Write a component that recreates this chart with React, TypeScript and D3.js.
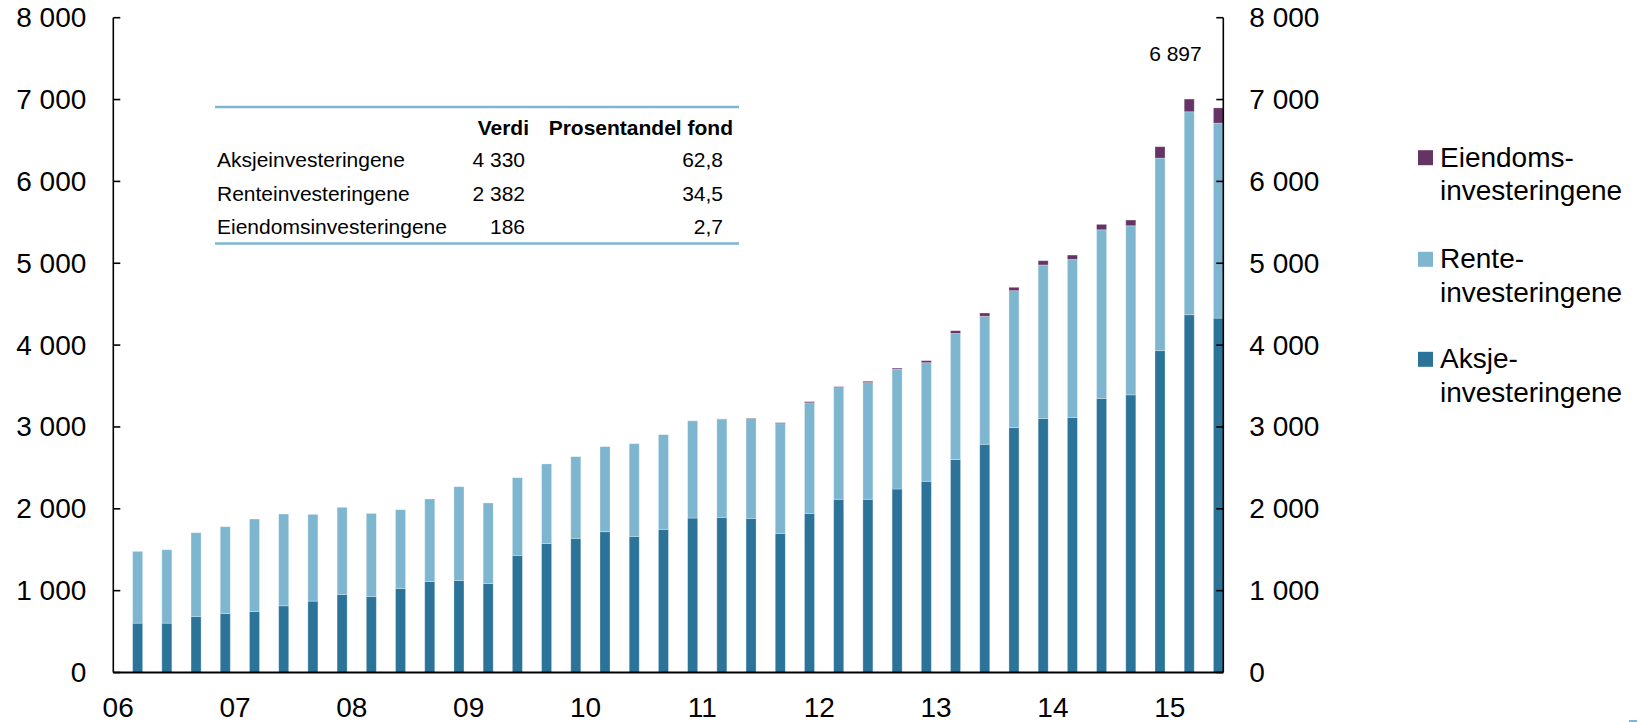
import React from "react";
import * as d3 from "d3";

// ---- Data ----
const quarters = [
  "2006-03", "2006-06", "2006-09", "2006-12",
  "2007-03", "2007-06", "2007-09", "2007-12",
  "2008-03", "2008-06", "2008-09", "2008-12",
  "2009-03", "2009-06", "2009-09", "2009-12",
  "2010-03", "2010-06", "2010-09", "2010-12",
  "2011-03", "2011-06", "2011-09", "2011-12",
  "2012-03", "2012-06", "2012-09", "2012-12",
  "2013-03", "2013-06", "2013-09", "2013-12",
  "2014-03", "2014-06", "2014-09", "2014-12",
  "2015-03", "2015-06",
];

const aksje = [
  603, 603, 685, 721, 746, 815, 872, 954, 929, 1027, 1113, 1125, 1088, 1431, 1577, 1639,
  1720, 1663, 1749, 1887, 1895, 1883, 1700, 1944, 2116, 2116, 2242, 2336, 2601, 2788,
  2991, 3104, 3115, 3348, 3392, 3932, 4371, 4330,
];
const rente = [
  877, 897, 1023, 1060, 1129, 1121, 1060, 1064, 1015, 962, 1007, 1145, 983, 949, 971, 998,
  1040, 1133, 1157, 1188, 1200, 1221, 1340, 1351, 1364, 1426, 1466, 1449, 1542, 1564,
  1674, 1875, 1932, 2061, 2066, 2353, 2480, 2382,
];
const eiendom = [
  0, 0, 0, 0, 0, 0, 0, 0, 0, 0, 0, 0, 0, 0, 0, 0,
  0, 0, 0, 0, 3, 5, 12, 14, 12, 16, 12, 25, 33, 40,
  41, 52, 53, 66, 70, 139, 155, 186,
];
const lastTotalLabel = 6897;

const yearLabels = ["06", "07", "08", "09", "10", "11", "12", "13", "14", "15"];
const yTicks = [0, 1000, 2000, 3000, 4000, 5000, 6000, 7000, 8000];

const seriesKeys = ["aksje", "rente", "eiendom"];
const seriesColors = ["#2C7399", "#7EB6D0", "#653465"];
const legendLabels = [
  ["Eiendoms-", "investeringene"],
  ["Rente-", "investeringene"],
  ["Aksje-", "investeringene"],
];
const legendColorIdx = [2, 1, 0];

const tableHeaders = ["Verdi", "Prosentandel fond"];
const tableRows = ["Aksjeinvesteringene", "Renteinvesteringene", "Eiendomsinvesteringene"];
const tableValues = [4330, 2382, 186];
const tablePct = [62.8, 34.5, 2.7];

// ---- Helpers ----
const nb = d3.formatLocale({ decimal: ",", thousands: "\u00a0", grouping: [3], currency: ["", " kr"] });
const fmtInt = nb.format(",d");
const fmtPct = nb.format(".1f");

const FONT = "'Liberation Sans', Arial, Helvetica, sans-serif";

export default function App() {
  const W = 1646;
  const H = 722;
  const left = 113.3;
  const right = 1223.3;
  const top = 17.7;
  const bottom = 672.5;

  const months = d3
    .timeMonth.range(new Date(2006, 0, 1), new Date(2015, 6, 1))
    .map((d) => d3.timeFormat("%Y-%m")(d));

  const x = d3.scaleBand<string>().domain(months).range([left, right]).padding(0);
  const y = d3.scaleLinear().domain([0, 8000]).range([bottom, top]);

  const rows = quarters.map((q, i) => ({ q, aksje: aksje[i], rente: rente[i], eiendom: eiendom[i] }));
  const stacked = d3.stack<any>().keys(seriesKeys)(rows);

  const barW = x.bandwidth() * 1.03;
  const cx = (q: string) => (x(q) as number) + x.bandwidth() / 2;

  const lastQ = quarters[quarters.length - 1];

  return (
    <svg
      width={W}
      height={H}
      style={{ position: "absolute", left: 0, top: 0, background: "#fff" }}
      fontFamily={FONT}
    >
      {/* Bars */}
      {stacked.map((s, si) => (
        <g key={si} fill={seriesColors[si]}>
          {s.map((d, i) => {
            const h = y(d[0]) - y(d[1]);
            if (h <= 0) return null;
            return (
              <rect
                key={i}
                x={cx(quarters[i]) - barW / 2}
                y={y(d[1])}
                width={barW}
                height={h}
                stroke="#ffffff"
                strokeOpacity={0.35}
                strokeWidth={0.8}
              />
            );
          })}
        </g>
      ))}

      {/* Axes */}
      <line x1={left} x2={left} y1={top} y2={bottom} stroke="#000" strokeWidth={1.6} />
      <line x1={right} x2={right} y1={top} y2={bottom} stroke="#000" strokeWidth={1.6} />
      <line x1={left} x2={right} y1={bottom} y2={bottom} stroke="#000" strokeWidth={2.2} />
      {yTicks.map((t) => (
        <g key={t}>
          <line x1={left} x2={left + 7} y1={y(t)} y2={y(t)} stroke="#000" strokeWidth={1.6} />
          <line x1={right - 7} x2={right} y1={y(t)} y2={y(t)} stroke="#000" strokeWidth={1.6} />
          <text x={left - 27} y={y(t)} textAnchor="end" dominantBaseline="central" fontSize={28} fill="#000">
            {fmtInt(t)}
          </text>
          <text x={right + 26} y={y(t)} textAnchor="start" dominantBaseline="central" fontSize={28} fill="#000">
            {fmtInt(t)}
          </text>
        </g>
      ))}
      {yearLabels.map((yl) => (
        <text
          key={yl}
          x={cx(`20${yl}-01`)}
          y={707}
          textAnchor="middle"
          dominantBaseline="central"
          fontSize={28}
          fill="#000"
        >
          {yl}
        </text>
      ))}

      {/* Total label */}
      <text x={cx(lastQ) - 43} y={60.7} textAnchor="middle" fontSize={21} fill="#000">
        {fmtInt(lastTotalLabel)}
      </text>

      {/* Table */}
      <line x1={215} x2={739} y1={107} y2={107} stroke="#7EB6D0" strokeWidth={2.6} />
      <line x1={215} x2={739} y1={243.5} y2={243.5} stroke="#7EB6D0" strokeWidth={2.6} />
      <text x={529} y={134.5} textAnchor="end" fontSize={21} fontWeight="bold" fill="#000">
        {tableHeaders[0]}
      </text>
      <text x={733} y={134.5} textAnchor="end" fontSize={21} fontWeight="bold" fill="#000">
        {tableHeaders[1]}
      </text>
      {tableRows.map((r, i) => (
        <g key={r}>
          <text x={217} y={167.3 + i * 33.3} fontSize={21} fill="#000">
            {r}
          </text>
          <text x={525} y={167.3 + i * 33.3} textAnchor="end" fontSize={21} fill="#000">
            {fmtInt(tableValues[i])}
          </text>
          <text x={723} y={167.3 + i * 33.3} textAnchor="end" fontSize={21} fill="#000">
            {fmtPct(tablePct[i])}
          </text>
        </g>
      ))}

      {/* Legend */}
      {legendLabels.map((lines, i) => {
        const base = [166.7, 268.3, 368.3][i];
        return (
          <g key={i}>
            <rect x={1418} y={base - 16.5} width={15} height={15} fill={seriesColors[legendColorIdx[i]]} />
            <text x={1440} y={base} fontSize={28} fill="#000">
              {lines[0]}
            </text>
            <text x={1440} y={base + 33.3} fontSize={28} fill="#000">
              {lines[1]}
            </text>
          </g>
        );
      })}

      {/* small corner mark */}
      <rect x={1629} y={720} width={8} height={2} fill="#7EB6D0" />
    </svg>
  );
}
